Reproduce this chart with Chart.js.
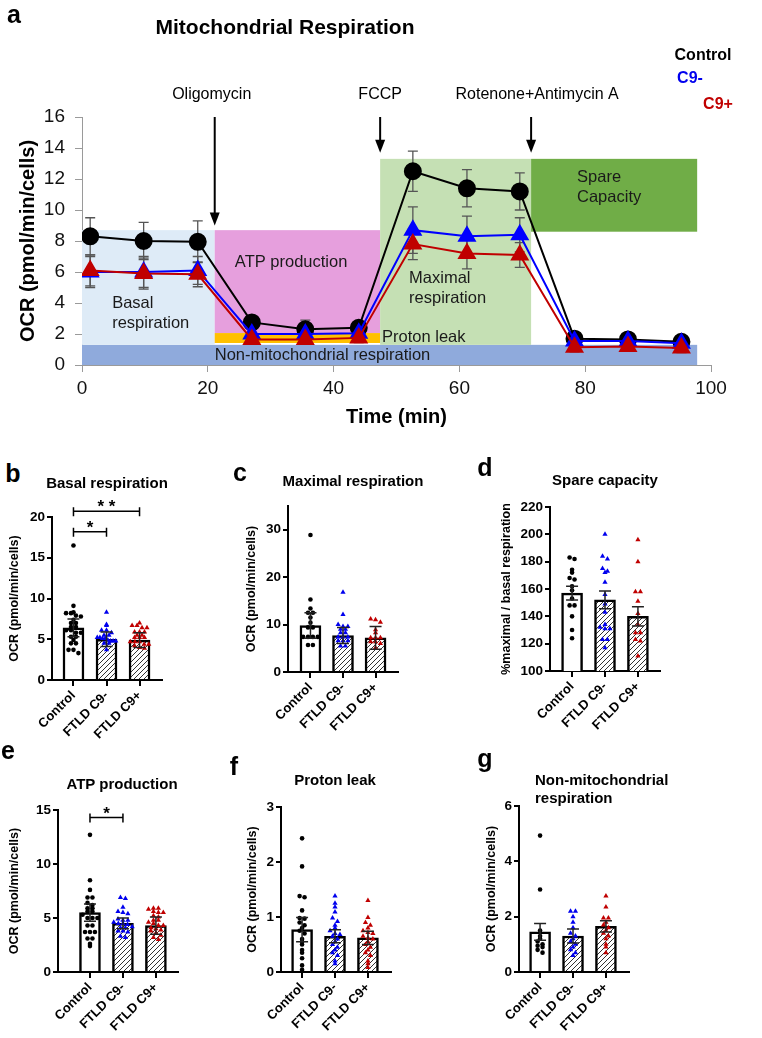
<!DOCTYPE html>
<html lang="en">
<head>
<meta charset="UTF-8" />
<title>Mitochondrial Respiration</title>
<script src="https://cdn.jsdelivr.net/npm/chart.js"></script>
<style>
  html, body { margin: 0; padding: 0; background: #fff; }
  body { width: 762px; height: 1038px; position: relative; overflow: hidden; font-family: Arial, "Liberation Sans", sans-serif; color: #000; }
  canvas { position: absolute; }
  .t { position: absolute; white-space: nowrap; transform: translate(-50%, -50%); line-height: 1; z-index: 2; }
  .l { transform: translate(0, -50%); }
  .letter { font-weight: bold; font-size: 25px; }
  .ptitle { font-weight: bold; font-size: 15px; }
  .leg { font-weight: bold; font-size: 16px; }
</style>
</head>
<body>

<div class="t letter" style="left:14px;top:14px">a</div>
<div class="t" style="left:285px;top:26px;font-weight:bold;font-size:21px">Mitochondrial Respiration</div>
<div class="t leg" style="left:703px;top:55px">Control</div>
<div class="t leg" style="left:690px;top:78px;color:#0000ee">C9-</div>
<div class="t leg" style="left:718px;top:104px;color:#c00000">C9+</div>

<div class="t letter" style="left:13px;top:473px">b</div>
<div class="t ptitle" style="left:107px;top:482px">Basal respiration</div>
<div class="t letter" style="left:240px;top:472px">c</div>
<div class="t ptitle" style="left:353px;top:480px">Maximal respiration</div>
<div class="t letter" style="left:485px;top:467px">d</div>
<div class="t ptitle" style="left:605px;top:479px">Spare capacity</div>
<div class="t letter" style="left:8px;top:750px">e</div>
<div class="t ptitle" style="left:122px;top:783px">ATP production</div>
<div class="t letter" style="left:234px;top:766px">f</div>
<div class="t ptitle" style="left:335px;top:779px">Proton leak</div>
<div class="t letter" style="left:485px;top:758px">g</div>
<div class="t ptitle l" style="left:535px;top:779px">Non-mitochondrial</div>
<div class="t ptitle l" style="left:535px;top:797px">respiration</div>

<canvas id="cA" width="762" height="440" style="left:0;top:0"></canvas>

<script>
// ---- panel a: time course ----
const times   = [1.3, 9.8, 18.4, 27.0, 35.5, 44.0, 52.6, 61.2, 69.6, 78.3, 86.8, 95.3];
const ctrlOCR = [8.3, 8.0, 7.95, 2.75, 2.3, 2.4, 12.5, 11.4, 11.2, 1.7, 1.65, 1.5];
const ctrlErr = [1.2, 1.2, 1.35, 0.3, 0.6, 0.3, 1.3, 1.2, 1.2, 0.2, 0.2, 0.2];
const c9nOCR  = [6.0, 6.0, 6.1, 2.0, 2.0, 2.05, 8.7, 8.3, 8.4, 1.55, 1.55, 1.4];
const c9nErr  = [1.0, 1.0, 0.9, 0.3, 0.3, 0.3, 1.5, 1.3, 1.1, 0.2, 0.2, 0.2];
const c9pOCR  = [6.1, 5.9, 5.85, 1.65, 1.65, 1.75, 7.8, 7.2, 7.1, 1.15, 1.2, 1.1];
const c9pErr  = [1.0, 1.0, 0.8, 0.2, 0.2, 0.3, 1.0, 1.0, 0.8, 0.3, 0.3, 0.3];
const aXTicks = [0, 20, 40, 60, 80, 100];
const aYTicks = [0, 2, 4, 6, 8, 10, 12, 14, 16];
const injTimes = [21.1, 47.4, 71.4];
const injNames = ['Oligomycin', 'FCCP', 'Rotenone+Antimycin A'];
const regionNames = ['Non-mitochondrial respiration', 'Basal respiration', 'ATP production', 'Proton leak', 'Maximal respiration', 'Spare capacity'];
const regionX0 = [0, 0, 21.1, 21.1, 47.4, 71.4];
const regionX1 = [97.8, 21.1, 47.4, 47.4, 71.4, 97.8];
const regionY0 = [0, 1.3, 2.06, 1.42, 1.3, 8.6];
const regionY1 = [1.3, 8.7, 8.7, 2.06, 13.3, 13.3];

// ---- panels b-g: per-sample values ----
const groups = ['Control', 'FTLD C9-', 'FTLD C9+'];

const basalMean = [6.4, 5.0, 4.9];
const basalErr  = [1.1, 0.9, 0.9];
const basalCtrl = [16.5, 9.1, 8.3, 8.2, 8.2, 7.9, 7.8, 7.4, 7.0, 7.0, 6.5, 6.5, 6.1, 6.1, 5.8, 5.8, 5.3, 5.3, 4.9, 4.5, 4.5, 3.7, 3.7, 3.3];
const basalC9n  = [8.3, 6.8, 6.7, 6.1, 6.1, 5.8, 5.5, 5.5, 5.2, 5.2, 5.1, 5.1, 4.9, 4.8, 4.8, 4.8, 4.5, 4.5, 3.7];
const basalC9p  = [7.0, 6.7, 6.7, 6.4, 6.4, 5.9, 5.9, 5.9, 5.5, 5.5, 5.2, 5.2, 5.2, 4.7, 4.7, 4.7, 4.4, 4.4, 4.2, 4.0, 3.9];
const basalTicks = [0, 5, 10, 15, 20];

const maxMean = [9.8, 7.7, 7.2];
const maxErr  = [2.7, 1.7, 2.4];
const maxCtrl = [28.9, 15.3, 13.4, 12.5, 12.5, 11.5, 10.4, 9.4, 9.4, 7.4, 7.4, 7.4, 7.4, 5.7, 5.7];
const maxC9n  = [16.8, 12.1, 10.0, 9.6, 9.6, 9.0, 9.0, 8.3, 8.3, 7.4, 7.4, 7.4, 6.6, 6.6, 6.6, 5.5, 5.5];
const maxC9p  = [11.2, 11.0, 10.5, 8.9, 8.3, 7.2, 7.2, 7.2, 6.4, 6.4, 6.0, 5.1];
const maxTicks = [0, 10, 20, 30];

const spareMean = [157, 152, 140];
const spareErr  = [5, 6.5, 7];
const spareCtrl = [183, 182, 174, 172, 168, 167, 162, 159, 153, 148, 148, 140, 130, 124];
const spareC9n  = [200, 184, 182, 175, 173, 172, 165, 156, 149, 143, 134, 132, 131, 131, 123, 123, 117];
const spareC9p  = [196, 180, 158, 158, 151, 142, 134, 128, 128, 123, 122, 111];
const spareTicks = [100, 120, 140, 160, 180, 200, 220];

const atpMean = [5.5, 4.5, 4.3];
const atpErr  = [0.8, 0.5, 0.8];
const atpCtrl = [12.7, 8.5, 7.6, 6.9, 6.9, 6.4, 6.2, 5.9, 5.9, 5.6, 5.6, 5.3, 5.0, 5.0, 5.0, 4.3, 4.3, 3.7, 3.7, 3.7, 3.1, 3.1, 2.6, 2.4];
const atpC9n  = [6.9, 6.8, 6.0, 5.6, 5.5, 5.4, 4.9, 4.8, 4.8, 4.6, 4.5, 4.5, 4.4, 4.2, 4.1, 4.1, 3.8, 3.8, 3.7, 3.3, 3.2];
const atpC9p  = [5.9, 5.9, 5.8, 5.6, 5.5, 5.5, 5.2, 5.1, 4.8, 4.8, 4.6, 4.5, 4.3, 4.3, 4.1, 4.0, 3.9, 3.8, 3.6, 3.4, 3.2, 3.0];
const atpTicks = [0, 5, 10, 15];

const leakMean = [0.77, 0.65, 0.62];
const leakErr  = [0.22, 0.12, 0.12];
const leakCtrl = [2.43, 1.92, 1.38, 1.36, 1.12, 0.98, 0.97, 0.9, 0.85, 0.8, 0.75, 0.7, 0.6, 0.55, 0.5, 0.4, 0.35, 0.25, 0.12, 0.04];
const leakC9n  = [1.38, 1.25, 1.18, 1.09, 0.98, 0.92, 0.85, 0.8, 0.75, 0.7, 0.68, 0.65, 0.6, 0.55, 0.5, 0.45, 0.4, 0.35, 0.3, 0.2, 0.15];
const leakC9p  = [1.3, 0.99, 0.9, 0.85, 0.8, 0.75, 0.72, 0.7, 0.65, 0.62, 0.6, 0.55, 0.5, 0.45, 0.4, 0.35, 0.3, 0.2, 0.15, 0.08];
const leakTicks = [0, 1, 2, 3];

const nonMean = [1.45, 1.3, 1.65];
const nonErr  = [0.3, 0.25, 0.2];
const nonCtrl = [4.93, 2.98, 1.5, 1.3, 1.2, 1.1, 1.0, 0.95, 0.9, 0.8, 0.7];
const nonC9n  = [2.2, 2.2, 2.0, 1.8, 1.6, 1.4, 1.3, 1.2, 1.1, 1.0, 0.9, 0.8, 0.7, 0.6];
const nonC9p  = [2.75, 2.35, 1.95, 1.95, 1.8, 1.7, 1.6, 1.5, 1.4, 1.3, 1.2, 1.0, 0.9, 0.7];
const nonTicks = [0, 2, 4, 6];

// significance brackets (group index from/to, height in data units)
const basalSigFrom = [0, 0], basalSigTo = [1, 2], basalSigY = [18.2, 20.7], basalSigText = ['*', '* *'];
const atpSigFrom = [0], atpSigTo = [1], atpSigY = [14.3], atpSigText = ['*'];

const FONT = 'Arial, "Liberation Sans", sans-serif';
Chart.defaults.font.family = FONT;
Chart.defaults.color = '#000';

// error bars drawn from the y scale
function drawErr(chart, o) {
  const ctx = chart.ctx, ys = chart.scales.y;
  ctx.save();
  ctx.strokeStyle = o.color;
  ctx.lineWidth = o.width;
  chart.data.datasets.forEach((ds, di) => {
    if (!ds.errors) return;
    chart.getDatasetMeta(di).data.forEach((el, i) => {
      const v = ds.data[i].y, e = ds.errors[i];
      const a = ys.getPixelForValue(v - e), b = ys.getPixelForValue(v + e);
      ctx.beginPath();
      ctx.moveTo(el.x, a); ctx.lineTo(el.x, b);
      ctx.moveTo(el.x - o.cap, a); ctx.lineTo(el.x + o.cap, a);
      ctx.moveTo(el.x - o.cap, b); ctx.lineTo(el.x + o.cap, b);
      ctx.stroke();
    });
  });
  ctx.restore();
}
const errorBars = {
  id: 'errorBars',
  beforeDatasetsDraw(chart, args, o) { if (o.behind) drawErr(chart, o); },
  afterDatasetsDraw(chart, args, o) { if (!o.behind) drawErr(chart, o); }
};

const regionFill = ['#8faadc', '#deebf7', '#e69fdd', '#ffc000', '#c5e0b4', '#70ad47'];
const regionText = [
  ['Non-mitochondrial respiration', 21.1, 0.62], ['Basal', 4.8, 4.0], ['respiration', 4.8, 2.7],
  ['ATP production', 24.3, 6.6], ['Proton leak', 47.7, 1.75], ['Maximal', 52, 5.6],
  ['respiration', 52, 4.3], ['Spare', 78.7, 12.1], ['Capacity', 78.7, 10.8]
];
const regions = {
  id: 'regions',
  beforeDatasetsDraw(chart) {
    const {ctx, scales: {x, y}} = chart;
    ctx.save();
    regionNames.forEach((n, i) => {
      const x0 = x.getPixelForValue(regionX0[i]), x1 = x.getPixelForValue(regionX1[i]);
      const y0 = y.getPixelForValue(regionY0[i]), y1 = y.getPixelForValue(regionY1[i]);
      ctx.fillStyle = regionFill[i];
      ctx.fillRect(x0, y1, x1 - x0, y0 - y1);
    });
    ctx.fillStyle = '#1a1a1a';
    ctx.font = '16.5px ' + FONT;
    ctx.textAlign = 'left';
    ctx.textBaseline = 'middle';
    regionText.forEach(([t, tx, ty]) => ctx.fillText(t, x.getPixelForValue(tx), y.getPixelForValue(ty)));
    ctx.restore();
  }
};

const injTip = [9.0, 13.7, 13.7];
const arrows = {
  id: 'arrows',
  afterDraw(chart) {
    const {ctx, scales: {x, y}} = chart;
    ctx.save();
    ctx.strokeStyle = '#000'; ctx.fillStyle = '#000'; ctx.lineWidth = 2;
    ctx.font = '16px ' + FONT; ctx.textAlign = 'center'; ctx.textBaseline = 'middle';
    injTimes.forEach((t, i) => {
      const px = x.getPixelForValue(t), top = y.getPixelForValue(16), tip = y.getPixelForValue(injTip[i]);
      ctx.beginPath(); ctx.moveTo(px, top); ctx.lineTo(px, tip - 10); ctx.stroke();
      ctx.beginPath(); ctx.moveTo(px - 5, tip - 13); ctx.lineTo(px + 5, tip - 13); ctx.lineTo(px, tip); ctx.closePath(); ctx.fill();
      ctx.fillText(injNames[i], px + (i === 2 ? 6 : (i === 0 ? -3 : 0)), top - 22);
    });
    ctx.restore();
  }
};

function series(vals) { return times.map((t, i) => ({x: t, y: vals[i]})); }

new Chart(document.getElementById('cA'), {
  type: 'line',
  data: {
    datasets: [
      {label: 'C9+', data: series(c9pOCR), errors: c9pErr, borderColor: '#c00000', backgroundColor: '#c00000',
       pointStyle: 'triangle', pointRadius: 9, borderWidth: 2, order: 1},
      {label: 'C9-', data: series(c9nOCR), errors: c9nErr, borderColor: '#0000ff', backgroundColor: '#0000ff',
       pointStyle: 'triangle', pointRadius: 9, borderWidth: 2, order: 2},
      {label: 'Control', data: series(ctrlOCR), errors: ctrlErr, borderColor: '#000', backgroundColor: '#000',
       pointStyle: 'circle', pointRadius: 8, borderWidth: 2, order: 3}
    ]
  },
  options: {
    responsive: false, animation: false, devicePixelRatio: 1,
    layout: {padding: {left: 0, top: 117, right: 51, bottom: 0}},
    plugins: {legend: {display: false}, tooltip: {enabled: false},
      errorBars: {behind: true, color: '#555', width: 1.3, cap: 5}},
    scales: {
      x: {
        type: 'linear', min: 0, max: 100,
        afterBuildTicks: s => { s.ticks = aXTicks.map(v => ({value: v})); },
        afterFit: s => { s.height = 75; },
        border: {color: '#9a9a9a', width: 1},
        grid: {drawOnChartArea: false, tickLength: 7, color: '#9a9a9a'},
        ticks: {font: {size: 19}, color: '#111', padding: 5, maxRotation: 0},
        title: {display: true, text: 'Time (min)', font: {size: 20, weight: 'bold'}, color: '#000', padding: {top: 0, bottom: 11}}
      },
      y: {
        min: 0, max: 16,
        afterBuildTicks: s => { s.ticks = aYTicks.map(v => ({value: v})); },
        afterFit: s => { s.width = 82; },
        border: {color: '#9a9a9a', width: 1},
        grid: {drawOnChartArea: false, tickLength: 7, color: '#9a9a9a'},
        ticks: {font: {size: 19}, color: '#111', padding: 10},
        title: {display: true, text: 'OCR (pmol/min/cells)', font: {size: 20, weight: 'bold'}, color: '#000', padding: {top: 16, bottom: 0}}
      }
    }
  },
  plugins: [regions, errorBars, arrows]
});

// ---- bar + scatter panels ----
function hatchPattern() {
  const c = document.createElement('canvas');
  c.width = c.height = 5;
  const g = c.getContext('2d');
  g.fillStyle = '#fff'; g.fillRect(0, 0, 5, 5);
  g.strokeStyle = '#333'; g.lineWidth = 1;
  g.beginPath();
  g.moveTo(0, 5); g.lineTo(5, 0);
  g.moveTo(-1, 1); g.lineTo(1, -1);
  g.moveTo(4, 6); g.lineTo(6, 4);
  g.stroke();
  return g.createPattern(c, 'repeat');
}
const hatch = hatchPattern();

// spread points of similar value side by side, kept inside the bar width
function swarm(vals, bin, step) {
  const rows = {};
  vals.forEach((v, i) => { const k = Math.round(v / bin); (rows[k] = rows[k] || []).push(i); });
  const off = vals.map(() => 0);
  Object.values(rows).forEach(idx => {
    const n = idx.length;
    const s = n > 1 ? Math.min(step, 0.56 / (n - 1)) : 0;
    idx.forEach((i, j) => { off[i] = (j - (n - 1) / 2) * s; });
  });
  return off;
}

const brackets = {
  id: 'brackets',
  afterDraw(chart, args, o) {
    const {ctx, scales: {x, y}} = chart;
    ctx.save();
    ctx.strokeStyle = '#000'; ctx.fillStyle = '#000'; ctx.lineWidth = 1.5;
    ctx.font = 'bold 17px ' + FONT; ctx.textAlign = 'center'; ctx.textBaseline = 'alphabetic';
    o.from.forEach((f, i) => {
      const x0 = x.getPixelForValue(f), x1 = x.getPixelForValue(o.to[i]), py = y.getPixelForValue(o.level[i]);
      ctx.beginPath();
      ctx.moveTo(x0, py); ctx.lineTo(x1, py);
      ctx.moveTo(x0, py - 4); ctx.lineTo(x0, py + 5);
      ctx.moveTo(x1, py - 4); ctx.lineTo(x1, py + 5);
      ctx.stroke();
      ctx.fillText(o.text[i], (x0 + x1) / 2, py + 1);
    });
    ctx.restore();
  }
};

const ptColor = ['#000', '#0000ee', '#c00000'];
const ptStyle = ['circle', 'triangle', 'triangle'];
const ptRadius = [2.3, 3, 3];

function barPanel(o) {
  const left = o.titleX - 10;
  const width = o.right + 16 - left, height = o.cBottom - o.cTop;
  const cv = document.createElement('canvas');
  cv.width = width; cv.height = height;
  cv.style.left = left + 'px'; cv.style.top = o.cTop + 'px';
  document.body.appendChild(cv);

  const datasets = o.pts.map((vals, g) => {
    const off = swarm(vals, o.bin, 0.15);
    return {type: 'scatter', data: vals.map((v, i) => ({x: g + off[i], y: v})),
      pointStyle: ptStyle[g], pointRadius: ptRadius[g], backgroundColor: ptColor[g], borderWidth: 0, order: 1};
  });
  datasets.push({type: 'bar', data: o.mean.map((m, g) => ({x: g, y: m})), errors: o.err,
    backgroundColor: ['#fff', hatch, hatch], borderColor: '#000', borderWidth: 2.5, barThickness: 21, order: 2});

  const plugins = [errorBars];
  const pluginOpts = {legend: {display: false}, tooltip: {enabled: false},
    errorBars: {behind: false, color: '#222', width: 1.5, cap: 6}};
  if (o.sig) { plugins.push(brackets); pluginOpts.brackets = o.sig; }

  new Chart(cv, {
    data: {datasets},
    options: {
      responsive: false, animation: false, devicePixelRatio: 1,
      layout: {padding: {left: 0, top: o.top - o.cTop, right: 16, bottom: 0}},
      plugins: pluginOpts,
      scales: {
        x: {
          type: 'linear', min: o.xMin, max: o.xMax, offset: false,
          afterBuildTicks: s => { s.ticks = [0, 1, 2].map(v => ({value: v})); },
          afterFit: s => { s.height = o.cBottom - o.bottom; },
          border: {color: '#000', width: 2},
          grid: {drawOnChartArea: false, offset: false, tickLength: 6, color: '#000', lineWidth: 2},
          ticks: {callback: v => groups[v], minRotation: 45, maxRotation: 45, autoSkip: false,
            font: {size: 13, weight: 'bold'}, color: '#000', padding: 2}
        },
        y: {
          min: o.ticks[0], max: o.yMax,
          afterBuildTicks: s => { s.ticks = o.ticks.map(v => ({value: v})); },
          afterFit: s => { s.width = o.axisX - left; },
          border: {color: '#000', width: 2},
          grid: {drawOnChartArea: false, tickLength: 5, color: '#000', lineWidth: 2},
          ticks: {font: {size: 13.5, weight: 'bold'}, color: '#000', padding: 2},
          title: {display: true, text: o.yTitle, font: {size: 12.5, weight: 'bold'}, color: '#000', padding: {top: 2.5, bottom: 0}}
        }
      }
    },
    plugins
  });
}

const ocrTitle = 'OCR (pmol/min/cells)';

barPanel({axisX: 52, right: 162, top: 517, bottom: 680, titleX: 15, cTop: 488, cBottom: 748,
  xMin: -0.65, xMax: 2.68, yMax: 20, ticks: basalTicks, bin: 0.5, yTitle: ocrTitle,
  mean: basalMean, err: basalErr, pts: [basalCtrl, basalC9n, basalC9p],
  sig: {from: basalSigFrom, to: basalSigTo, level: basalSigY, text: basalSigText}});

barPanel({axisX: 288, right: 398, top: 506, bottom: 672, titleX: 252, cTop: 488, cBottom: 745,
  xMin: -0.69, xMax: 2.69, yMax: 35, ticks: maxTicks, bin: 0.9, yTitle: ocrTitle,
  mean: maxMean, err: maxErr, pts: [maxCtrl, maxC9n, maxC9p]});

barPanel({axisX: 550, right: 660, top: 507, bottom: 671, titleX: 507, cTop: 488, cBottom: 745,
  xMin: -0.67, xMax: 2.67, yMax: 220, ticks: spareTicks, bin: 3, yTitle: '%maximal / basal respiration',
  mean: spareMean, err: spareErr, pts: [spareCtrl, spareC9n, spareC9p]});

barPanel({axisX: 58, right: 178, top: 810, bottom: 972, titleX: 15, cTop: 790, cBottom: 1038,
  xMin: -0.97, xMax: 2.67, yMax: 15, ticks: atpTicks, bin: 0.4, yTitle: ocrTitle,
  mean: atpMean, err: atpErr, pts: [atpCtrl, atpC9n, atpC9p],
  sig: {from: atpSigFrom, to: atpSigTo, level: atpSigY, text: atpSigText}});

barPanel({axisX: 281, right: 391, top: 807, bottom: 972, titleX: 253, cTop: 790, cBottom: 1038,
  xMin: -0.64, xMax: 2.7, yMax: 3, ticks: leakTicks, bin: 0.08, yTitle: ocrTitle,
  mean: leakMean, err: leakErr, pts: [leakCtrl, leakC9n, leakC9p]});

barPanel({axisX: 519, right: 629, top: 806, bottom: 972, titleX: 492, cTop: 790, cBottom: 1038,
  xMin: -0.64, xMax: 2.7, yMax: 6, ticks: nonTicks, bin: 0.15, yTitle: ocrTitle,
  mean: nonMean, err: nonErr, pts: [nonCtrl, nonC9n, nonC9p]});
</script>
</body>
</html>
